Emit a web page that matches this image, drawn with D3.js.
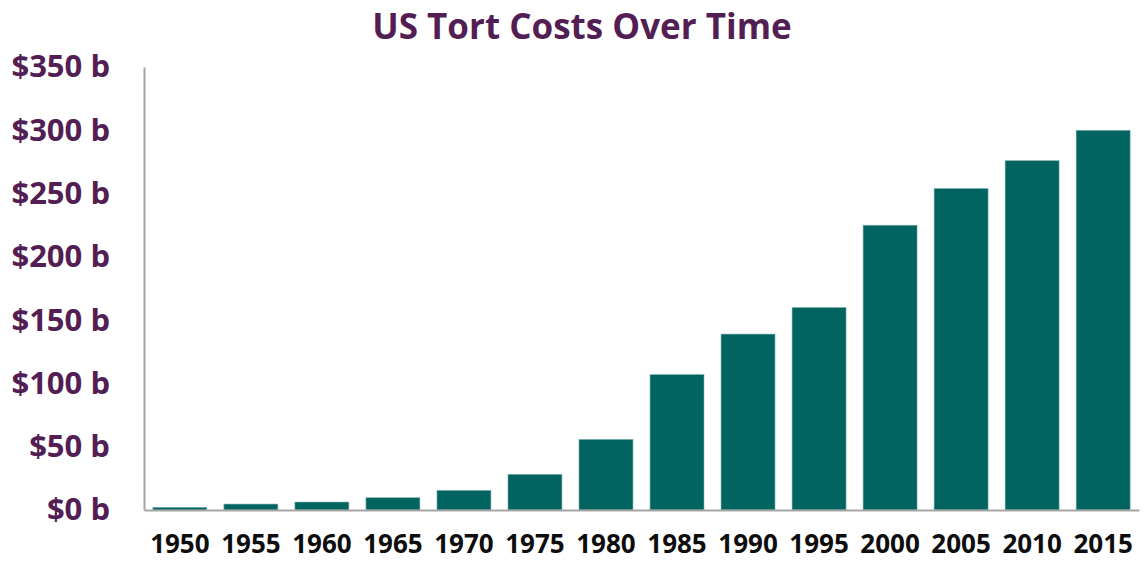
<!DOCTYPE html>
<html>
<head>
<meta charset="utf-8">
<script src="https://cdn.jsdelivr.net/npm/d3@7"></script>
<style>
  body { margin: 0; background: #fff; }
</style>
</head>
<body>
<div id="screen"></div>
<script>
const years = ['1950', '1955', '1960', '1965', '1970', '1975', '1980', '1985', '1990', '1995', '2000', '2005', '2010', '2015']
const costs = [2.1, 4.7, 6.3, 9.7, 15.5, 28.2, 55.8, 107, 139, 160, 225, 254, 276, 300]
const yTicks = [0, 50, 100, 150, 200, 250, 300, 350]

const width = 1146
const height = 561
const margin = { top: 67, right: 7, bottom: 51, left: 144 }
const purple = '#521e54'
const teal = '#016461'
const font = "'Open Sans', 'Noto Sans', sans-serif"

const svg = d3.select('#screen').append('svg')
  .attr('width', width)
  .attr('height', height)

const x = d3.scaleBand()
  .domain(years)
  .range([margin.left, width - margin.right])
  .paddingInner(0.24)
  .paddingOuter(0.125)

const y = d3.scaleLinear()
  .domain([0, 350])
  .range([height - margin.bottom, margin.top])

// titre
svg.append('text')
  .attr('x', 582)
  .attr('y', 39)
  .attr('text-anchor', 'middle')
  .attr('font-family', font)
  .attr('font-weight', 700)
  .attr('font-size', '35px')
  .attr('fill', purple)
  .text('US Tort Costs Over Time')

// barres
svg.selectAll('rect.bar')
  .data(years.map((d, i) => ({ year: d, value: costs[i] })))
  .join('rect')
  .attr('class', 'bar')
  .attr('x', d => x(d.year))
  .attr('y', d => y(d.value))
  .attr('width', x.bandwidth())
  .attr('height', d => y(0) - y(d.value))
  .attr('fill', teal)
  .attr('stroke', '#7fb3b0')
  .attr('stroke-width', 0.6)

// axe Y
const yAxis = svg.append('g')
  .attr('transform', `translate(${margin.left},0)`)
  .call(d3.axisLeft(y).tickValues(yTicks).tickSize(0).tickPadding(34).tickFormat(d => `$${d} b`))
yAxis.select('.domain').attr('stroke', '#a6a6a6').attr('stroke-width', 2)
yAxis.selectAll('text')
  .attr('font-family', font)
  .attr('font-weight', 700)
  .attr('font-size', '31px')
  .attr('fill', purple)

// axe X
const xAxis = svg.append('g')
  .attr('transform', `translate(0,${y(0)})`)
  .call(d3.axisBottom(x).tickSize(0).tickPadding(25))
xAxis.select('.domain').attr('stroke', '#a6a6a6').attr('stroke-width', 2)
xAxis.selectAll('text')
  .attr('font-family', font)
  .attr('font-weight', 700)
  .attr('font-size', '26px')
  .attr('fill', '#0d0d0d')
</script>
</body>
</html>
